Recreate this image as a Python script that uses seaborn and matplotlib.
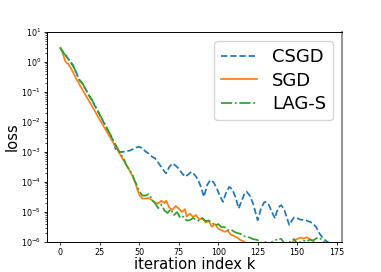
import numpy as np
import matplotlib
matplotlib.use("Agg")
import matplotlib.pyplot as plt
import seaborn as sns

# loss curves, stored as log10(loss)
k_csgd = [0, 2, 4, 6, 8, 10, 12, 14, 16, 18, 20, 22, 24, 26, 28, 30, 32, 34, 35,
          36, 38, 40, 42, 44, 46, 48, 50, 52, 54, 56, 58, 60, 62, 64, 66, 67, 69,
          71, 73, 75, 77, 79, 81, 83, 85, 87, 89, 91, 93, 95, 97, 99, 101, 103,
          105, 107, 109, 111, 113, 115, 117, 118, 120, 122, 125, 127, 129, 130,
          132, 134, 136, 137, 139, 140, 142, 145, 147, 148, 150, 152, 155, 158,
          160, 162, 164, 166, 168, 170]
log_csgd = [0.48, 0.32, 0.18, 0.04, -0.12, -0.33, -0.58, -0.72, -0.9, -1.1, -1.27,
            -1.47, -1.66, -1.86, -2.06, -2.26, -2.46, -2.68, -2.9,
            -2.95, -3.0, -2.99, -2.97, -2.95, -2.9, -2.85, -2.82, -2.88, -2.98,
            -3.05, -3.15, -3.21, -3.35, -3.5, -3.65, -3.71, -3.5,
            -3.38, -3.45, -3.55, -3.7, -3.82, -3.75, -3.66, -3.75, -3.9, -4.15,
            -4.49, -4.1, -3.93, -4.0, -4.2, -4.45, -4.66,
            -4.35, -4.16, -4.25, -4.5, -4.88, -4.6, -4.35, -4.32, -4.45, -4.7,
            -5.27, -4.9, -4.68, -4.66,
            -4.75, -5.0, -5.21, -5.0, -4.8, -4.77, -4.95, -5.43, -5.25, -5.18,
            -5.2, -5.25, -5.27, -5.32,
            -5.38, -5.5, -5.7, -5.85, -5.95, -6.02]

k_sgd = [0, 1, 2, 3, 4, 5, 6, 8, 10, 12, 14, 16, 18, 20, 22, 24, 26, 28, 30, 32,
         34, 36, 38, 40, 42, 44, 46, 47, 48, 49, 50, 51, 52, 54, 56, 58, 60, 62,
         64, 66, 67, 69, 71, 73, 75, 77, 79, 80, 82, 84, 86, 88, 90, 92, 94, 96,
         98, 100, 102, 104, 106, 108, 110, 112, 114, 116, 118, 120, 125, 130,
         135, 140, 145, 148, 150, 152, 154, 156, 158, 160, 162, 164, 170]
log_sgd = [0.48, 0.38, 0.22, 0.05, -0.03, -0.06, -0.14, -0.33, -0.55, -0.73,
           -0.92, -1.1, -1.28, -1.46, -1.64, -1.83, -2.01, -2.19, -2.37, -2.55,
           -2.73, -2.91, -3.09, -3.27, -3.45, -3.63, -3.82, -3.95, -4.1, -4.28,
           -4.42, -4.49, -4.55, -4.55, -4.53, -4.6, -4.68, -4.72,
           -4.62, -4.7, -4.62, -4.85, -4.93, -4.8, -4.88, -5.0, -4.9, -5.15,
           -5.05, -5.16, -5.1, -5.25, -5.2, -5.35, -5.3, -5.49,
           -5.4, -5.55, -5.6, -5.66, -5.62, -5.75, -5.8, -5.85, -5.93, -5.97,
           -6.05, -6.2, -6.3, -6.35,
           -6.3, -6.3, -6.1, -5.95, -5.9, -5.85, -5.88, -5.84, -5.9, -5.95,
           -6.1, -6.3, -6.4]

k_lag = [0, 2, 4, 6, 8, 10, 12, 14, 16, 18, 20, 22, 24, 26, 28, 30, 32, 34, 36,
         38, 40, 42, 44, 46, 47, 48, 50, 52, 54, 56, 57, 58, 60, 62, 64, 66, 68,
         70, 72, 74, 76, 78, 80, 82, 84, 86, 88, 90, 92, 94, 96, 98, 100, 102,
         104, 106, 108, 110, 112, 114, 116, 118, 120, 122, 124, 126, 128, 130,
         132, 134, 136, 138, 140, 142, 144, 146, 148, 150, 152, 154, 156, 158,
         160, 162, 164, 166, 168, 170]
log_lag = [0.48, 0.3, 0.2, 0.05, -0.1, -0.35, -0.6, -0.7, -0.9, -1.1, -1.25,
           -1.45, -1.65, -1.85, -2.05, -2.25, -2.45, -2.65, -2.85,
           -3.05, -3.2, -3.45, -3.6, -3.8, -3.95, -4.05, -4.3, -4.45, -4.45,
           -4.4, -4.45, -4.6, -4.7, -4.87, -4.75, -4.95, -5.03,
           -4.9, -5.1, -5.0, -5.2, -5.15, -5.28, -5.27, -5.2, -5.25, -5.3,
           -5.2, -5.3, -5.28, -5.35, -5.45, -5.4, -5.5,
           -5.5, -5.6, -5.58, -5.65, -5.7, -5.72, -5.8, -5.82, -5.85, -5.9,
           -5.92, -5.95, -6.05, -6.0,
           -6.1, -6.0, -5.95, -5.88, -5.9, -6.05, -6.1, -5.95, -5.9, -6.05,
           -6.0, -5.95, -5.98, -5.92,
           -5.95, -5.88, -5.85, -5.95, -6.05, -6.2]

fig = plt.figure(figsize=(3.81, 2.72), dpi=100)
ax = fig.add_axes([0.123, 0.11, 0.775, 0.772])

sns.lineplot(x=k_csgd, y=10.0 ** np.array(log_csgd), ax=ax, color="#1f77b4",
             linestyle="--", lw=1.25, label="CSGD")
sns.lineplot(x=k_sgd, y=10.0 ** np.array(log_sgd), ax=ax, color="#ff7f0e",
             linestyle="-", lw=1.25, label="SGD")
sns.lineplot(x=k_lag, y=10.0 ** np.array(log_lag), ax=ax, color="#2ca02c",
             linestyle="-.", lw=1.25, label="LAG-S")

ax.set_yscale("log")
ax.set_ylim(1e-6, 1e1)
ax.set_xlim(-8.5, 178.5)
ax.set_xticks([0, 25, 50, 75, 100, 125, 150, 175])
ax.tick_params(labelsize=5.8, length=2.5, width=0.6, pad=1.5)
ax.tick_params(which="minor", length=1.5, width=0.5)
ax.set_xlabel("iteration index k", fontsize=10.6, labelpad=0)
ax.set_ylabel("loss", fontsize=10.6, labelpad=1)
for s in ["top", "left", "bottom"]:
    ax.spines[s].set_linewidth(0.7)
ax.spines["right"].set_color("0.6")
ax.spines["right"].set_linewidth(1.5)

ax.legend(loc="upper right", fontsize=13, handlelength=2.0,
          borderaxespad=0.5, labelspacing=0.3)

fig.savefig("out.png", dpi=100)
